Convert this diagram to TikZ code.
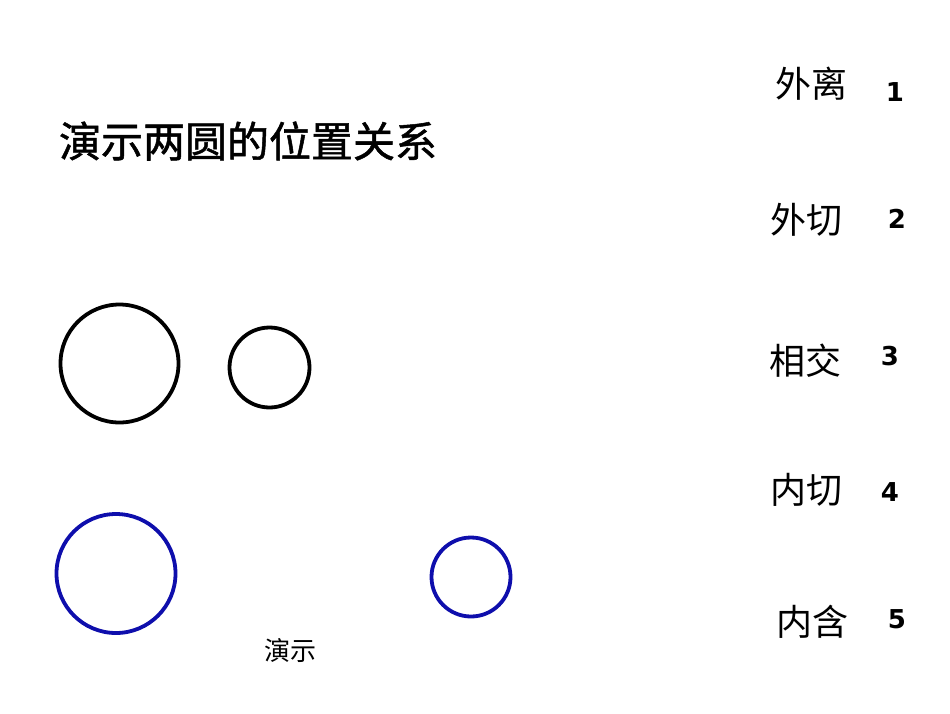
\documentclass[tikz,border=0pt]{standalone}
\usepackage{fontspec}
\newfontfamily\cjk{Noto Sans CJK SC}
\newfontfamily\cjkbold[FakeBold=1.2]{Noto Sans CJK SC}
\newfontfamily\numfont{DejaVu Sans}
\definecolor{ringblue}{RGB}{14,14,172}
\begin{document}
\begin{tikzpicture}[x=1pt,y=-1pt,
  ring/.style={circle, draw, line width=3.8pt, inner sep=0pt, outer sep=0pt},
  title/.style={inner sep=0pt, font=\cjkbold\fontsize{42}{42}\selectfont},
  label/.style={inner sep=0pt, font=\cjk\fontsize{36}{36}\selectfont},
  num/.style={inner sep=0pt, font=\numfont\bfseries\fontsize{26}{26}\selectfont},
  demo/.style={inner sep=0pt, font=\cjk\fontsize{26}{26}\selectfont}]
\useasboundingbox[fill=white] (0,0) rectangle (950,713);
\node[title] (t) at (248,141) {演示两圆的位置关系};
\node[label] (l1) at (811,84) {外离};
\node[label] (l2) at (806,220) {外切};
\node[label] (l3) at (805,361) {相交};
\node[label] (l4) at (806,490) {内切};
\node[label] (l5) at (812,622) {内含};
\node[num] (n1) at (895,92) {1};
\node[num] (n2) at (897,219) {2};
\node[num] (n3) at (890,356) {3};
\node[num] (n4) at (890,492) {4};
\node[num] (n5) at (897,619) {5};
\node[ring, minimum size=118pt] (c1) at (119.5,363.5) {};
\node[ring, minimum size=80pt] (c2) at (269.5,367.5) {};
\node[ring, draw=ringblue, minimum size=119pt] (c3) at (116,573.5) {};
\node[ring, draw=ringblue, minimum size=79pt] (c4) at (471,577) {};
\node[demo] (d) at (290,651) {演示};
\end{tikzpicture}
\end{document}
